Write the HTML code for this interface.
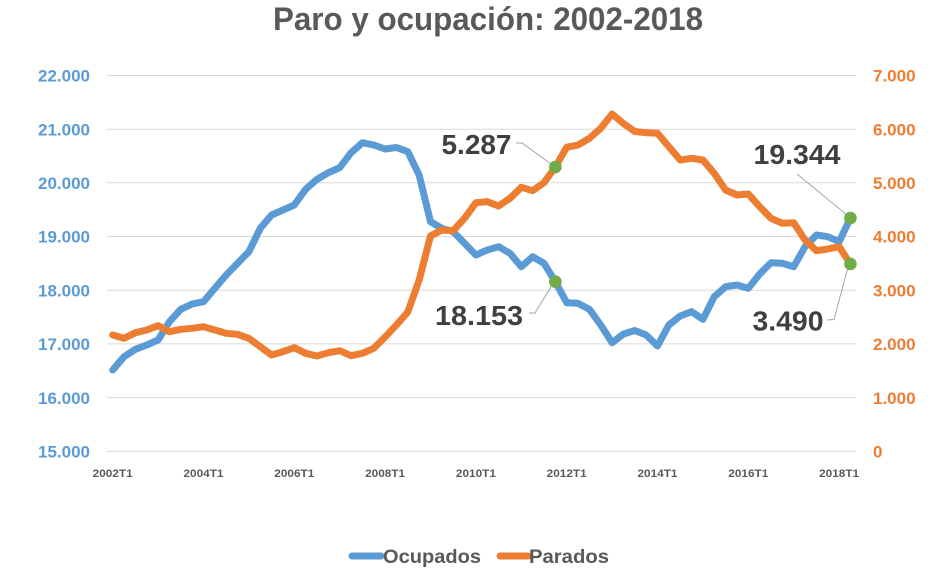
<!DOCTYPE html>
<html><head><meta charset="utf-8"><style>
html,body{margin:0;padding:0;background:#fff;}
svg{display:block;font-family:"Liberation Sans",Arial,sans-serif;}
</style></head><body>
<svg width="950" height="579" viewBox="0 0 950 579" xmlns="http://www.w3.org/2000/svg">
<rect width="950" height="579" fill="#fff"/>
<text x="488" y="30" text-anchor="middle" font-size="32" font-weight="bold" fill="#595959" textLength="430" lengthAdjust="spacingAndGlyphs">Paro y ocupación: 2002-2018</text>
<g stroke="#D9D9D9" stroke-width="1">
<line x1="107" x2="856" y1="451.3" y2="451.3"/>
<line x1="107" x2="856" y1="397.6" y2="397.6"/>
<line x1="107" x2="856" y1="343.9" y2="343.9"/>
<line x1="107" x2="856" y1="290.2" y2="290.2"/>
<line x1="107" x2="856" y1="236.5" y2="236.5"/>
<line x1="107" x2="856" y1="182.8" y2="182.8"/>
<line x1="107" x2="856" y1="129.2" y2="129.2"/>
<line x1="107" x2="856" y1="75.5" y2="75.5"/>
</g>
<g font-size="17" font-weight="bold" fill="#5B9BD5" text-anchor="end">
<text x="90" y="457.5">15.000</text>
<text x="90" y="403.8">16.000</text>
<text x="90" y="350.1">17.000</text>
<text x="90" y="296.4">18.000</text>
<text x="90" y="242.7">19.000</text>
<text x="90" y="189">20.000</text>
<text x="90" y="135.4">21.000</text>
<text x="90" y="81.7">22.000</text>
</g>
<g font-size="17" font-weight="bold" fill="#ED7D31" text-anchor="start">
<text x="873" y="457.5">0</text>
<text x="873" y="403.8">1.000</text>
<text x="873" y="350.1">2.000</text>
<text x="873" y="296.4">3.000</text>
<text x="873" y="242.7">4.000</text>
<text x="873" y="189">5.000</text>
<text x="873" y="135.4">6.000</text>
<text x="873" y="81.7">7.000</text>
</g>
<g font-size="11" font-weight="bold" fill="#595959" text-anchor="middle">
<text x="112.7" y="477" textLength="40" lengthAdjust="spacingAndGlyphs">2002T1</text>
<text x="203.5" y="477" textLength="40" lengthAdjust="spacingAndGlyphs">2004T1</text>
<text x="294.3" y="477" textLength="40" lengthAdjust="spacingAndGlyphs">2006T1</text>
<text x="385.1" y="477" textLength="40" lengthAdjust="spacingAndGlyphs">2008T1</text>
<text x="475.9" y="477" textLength="40" lengthAdjust="spacingAndGlyphs">2010T1</text>
<text x="566.7" y="477" textLength="40" lengthAdjust="spacingAndGlyphs">2012T1</text>
<text x="657.5" y="477" textLength="40" lengthAdjust="spacingAndGlyphs">2014T1</text>
<text x="748.3" y="477" textLength="40" lengthAdjust="spacingAndGlyphs">2016T1</text>
<text x="839.1" y="477" textLength="40" lengthAdjust="spacingAndGlyphs">2018T1</text>
</g>
<polyline fill="none" stroke="#5B9BD5" stroke-width="7" stroke-linejoin="round" stroke-linecap="round" points="112.7,370 124.05,356.7 135.4,349.3 146.75,345 158.1,340 169.45,321.7 180.8,309.3 192.15,304 203.5,301.7 214.85,288.3 226.2,275 237.55,263.3 248.9,251.7 260.25,228.3 271.6,215 282.95,210 294.3,205 305.65,189.3 317,179.3 328.35,172.7 339.7,167.7 351.05,152.7 362.4,142.7 373.75,145 385.1,149 396.45,147.5 407.8,151.7 419.15,175 430.5,221.7 441.85,228.3 453.2,231.7 464.55,243.3 475.9,255 487.25,250 498.6,246.7 509.95,253.3 521.3,266.7 532.65,256.7 544,263.3 555.35,281.7 566.7,302.7 578.05,303.3 589.4,309.3 600.75,325 612.1,342.7 623.45,334 634.8,330.5 646.15,335 657.5,346 668.85,325 680.2,316 691.55,311.7 702.9,319.3 714.25,296.7 725.6,286.7 736.95,285 748.3,288.3 759.65,274 771,262.7 782.35,263.3 793.7,266.7 805.05,246.7 816.4,235 827.75,236.7 839.1,241.7 850.45,218"/>
<polyline fill="none" stroke="#ED7D31" stroke-width="7" stroke-linejoin="round" stroke-linecap="round" points="112.7,335 124.05,338.3 135.4,332.7 146.75,330 158.1,325.7 169.45,331.7 180.8,329.3 192.15,328.3 203.5,326.7 214.85,330 226.2,333.3 237.55,334.3 248.9,338.3 260.25,346.7 271.6,355 282.95,351.7 294.3,347.7 305.65,353.3 317,356 328.35,352.7 339.7,350.7 351.05,355.7 362.4,353.3 373.75,348.3 385.1,337 396.45,325 407.8,312 419.15,280 430.5,236 441.85,230 453.2,230.7 464.55,218.3 475.9,202.7 487.25,201.7 498.6,206 509.95,198.3 521.3,187.3 532.65,190.7 544,182.7 555.35,167 566.7,147.3 578.05,145 589.4,138.3 600.75,128.3 612.1,114 623.45,123.5 634.8,131.5 646.15,132.7 657.5,133.3 668.85,146.7 680.2,160 691.55,158.3 702.9,160 714.25,173.3 725.6,190 736.95,195 748.3,194 759.65,206.7 771,218.3 782.35,223.3 793.7,222.7 805.05,240 816.4,250.7 827.75,249 839.1,246.7 850.45,263.9"/>
<g stroke="#A6A6A6" stroke-width="1" fill="none">
<polyline points="516,143 522,143 551,164"/>
<polyline points="529,313 535,313 552,285"/>
<polyline points="797,174 847,215"/>
<polyline points="827,320 834,319.5 848,267"/>
</g>
<g fill="#70AD47">
<circle cx="555.35" cy="167" r="6.3"/>
<circle cx="555.35" cy="281.7" r="6.3"/>
<circle cx="850.45" cy="218" r="6.3"/>
<circle cx="850.45" cy="263.9" r="6.3"/>
</g>
<g font-size="28" font-weight="bold" fill="#404040">
<text x="441.5" y="154" textLength="70" lengthAdjust="spacingAndGlyphs">5.287</text>
<text x="435" y="325" textLength="88" lengthAdjust="spacingAndGlyphs">18.153</text>
<text x="753.5" y="164" textLength="87" lengthAdjust="spacingAndGlyphs">19.344</text>
<text x="752.5" y="330.5" textLength="71" lengthAdjust="spacingAndGlyphs">3.490</text>
</g>
<line x1="352" y1="556" x2="381" y2="556" stroke="#5B9BD5" stroke-width="7" stroke-linecap="round"/>
<text x="383" y="563" font-size="19" font-weight="bold" fill="#595959" textLength="98" lengthAdjust="spacingAndGlyphs">Ocupados</text>
<line x1="500" y1="556" x2="528" y2="556" stroke="#ED7D31" stroke-width="7" stroke-linecap="round"/>
<text x="529" y="563" font-size="19" font-weight="bold" fill="#595959" textLength="80" lengthAdjust="spacingAndGlyphs">Parados</text>
</svg>
</body></html>
